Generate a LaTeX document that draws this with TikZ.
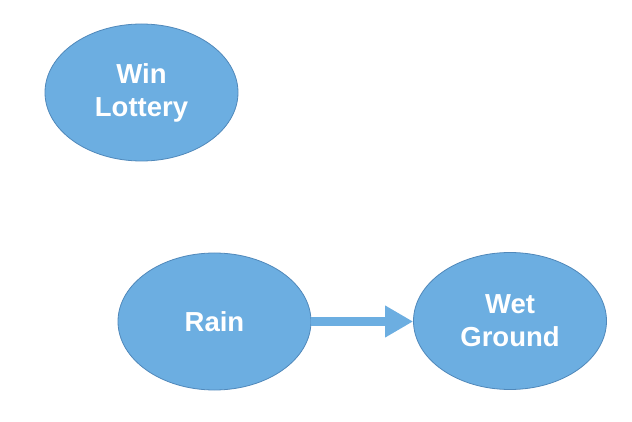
\documentclass[tikz,border=0pt]{standalone}
\usepackage{fontspec}
\setmainfont{Liberation Sans}
\usetikzlibrary{shapes.geometric,arrows.meta}
\definecolor{nodefill}{RGB}{108,174,225}
\definecolor{nodeedge}{RGB}{80,136,186}
\begin{document}
\begin{tikzpicture}[x=1pt,y=-1pt,
  bubble/.style={ellipse,draw=nodeedge,line width=0.8pt,fill=nodefill,
    minimum width=193pt,minimum height=137pt,inner sep=0pt,
    text=white,font=\fontsize{27.5}{33}\selectfont\bfseries,align=center},
  link/.style={draw=nodefill,line width=9.5pt,-{Triangle[length=28pt,width=30pt]}}]
\useasboundingbox (0,0) rectangle (632,422);
\node[bubble] (win) at (141.5,92.5) {Win\\Lottery};
\node[bubble] (rain) at (214.5,321.5) {Rain};
\node[bubble] (wet) at (510,321) {Wet\\Ground};
\draw[link] (rain.east) -- (rain.east -| wet.west);
\end{tikzpicture}
\end{document}
